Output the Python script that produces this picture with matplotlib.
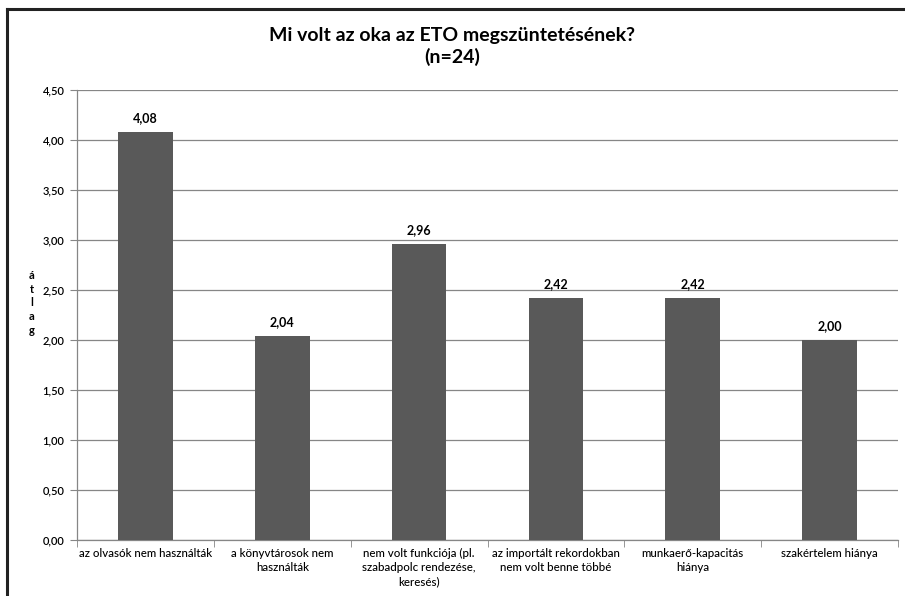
import matplotlib
matplotlib.use('Agg')
import matplotlib.pyplot as plt
import numpy as np
from matplotlib.lines import Line2D

categories = ['az olvasók nem használták',
              'a könyvtárosok nem\nhasználták',
              'nem volt funkciója (pl.\nszabadpolc rendezése,\nkeresés)',
              'az importált rekordokban\nnem volt benne többé',
              'munkaerő-kapacitás\nhiánya',
              'szakértelem hiánya']
values = [4.08, 2.04, 2.96, 2.42, 2.42, 2.00]
yticks = [0, 0.5, 1.0, 1.5, 2.0, 2.5, 3.0, 3.5, 4.0, 4.5]

plt.rcParams['font.family'] = ['Lato', 'DejaVu Sans']

fig = plt.figure(figsize=(9.05, 5.96), dpi=100)
ax = fig.add_axes([77/905, 1-540/596, (898-77)/905, 450/596])

x = np.arange(len(values))
bars = ax.bar(x, values, width=0.4, color='#595959', zorder=3)
for xi, v in zip(x, values):
    ax.text(xi, v + 0.08, '{:.2f}'.format(v).replace('.', ','), ha='center', va='bottom',
            fontsize=9, fontweight='bold')

ax.set_xlim(-0.5, len(values) - 0.5)
ax.set_ylim(0, 4.5)
ax.set_yticks(yticks)
ax.set_yticklabels(['{:.2f}'.format(t).replace('.', ',') for t in yticks], fontsize=8,
                   fontweight='semibold')
ax.yaxis.grid(True, color='#868686', linewidth=0.9, zorder=0)
ax.set_xticks(x)
ax.set_xticklabels(categories, fontsize=8.3, linespacing=1.3, fontweight='medium')
ax.set_xticks(np.arange(len(values) + 1) - 0.5, minor=True)
ax.tick_params(axis='x', which='major', length=0, pad=6)
ax.tick_params(axis='x', which='minor', length=5, color='#868686')
ax.tick_params(axis='y', length=5, color='#868686', pad=4)
for s in ['top', 'right']:
    ax.spines[s].set_visible(False)
for s in ['left', 'bottom']:
    ax.spines[s].set_color('#868686')
    ax.spines[s].set_linewidth(0.9)

fig.text(32/905, 1-303/596, 'á\nt\nl\na\ng', ha='center', va='center', fontsize=8,
         fontweight='bold', linespacing=1.3)

fig.text(452/905, 1-35/596, 'Mi volt az oka az ETO megszüntetésének?', ha='center', va='center',
         fontsize=14, fontweight='bold')
fig.text(452/905, 1-57/596, '(n=24)', ha='center', va='center', fontsize=14, fontweight='bold')

# outer frame (top and left only visible)
fig.add_artist(Line2D([7/905, 7/905], [0, 1-9/596], transform=fig.transFigure, color='#222222', linewidth=2.2))
fig.add_artist(Line2D([7/905, 1], [1-9/596, 1-9/596], transform=fig.transFigure, color='#222222', linewidth=2.2))

fig.savefig('out.png', dpi=100)
